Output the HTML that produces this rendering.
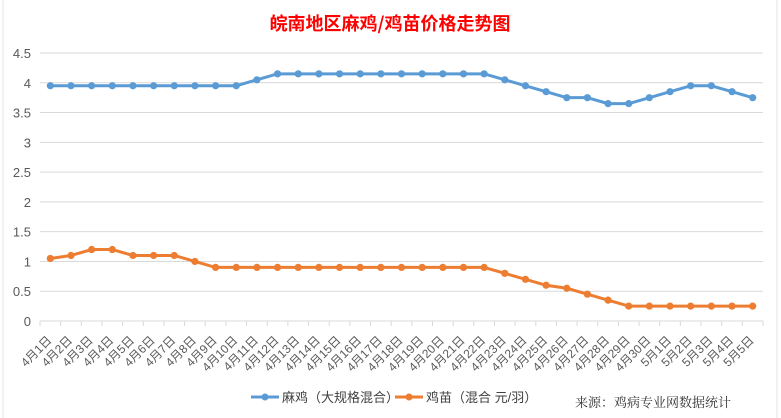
<!DOCTYPE html>
<html><head><meta charset="utf-8"><style>
body{margin:0;background:#fff;}
svg{display:block;font-family:"Liberation Sans","Noto Sans CJK SC",sans-serif;}
</style></head><body>
<svg id="chart" width="781" height="418" viewBox="0 0 781 418" xmlns="http://www.w3.org/2000/svg">
<rect x="0" y="0" width="781" height="418" fill="#fff"/>
<line x1="3" y1="0" x2="3" y2="418" stroke="#e3e3e3"/>
<line x1="777" y1="0" x2="777" y2="418" stroke="#e3e3e3"/>
<text x="390" y="30" text-anchor="middle" font-size="18" font-weight="bold" fill="#ff0000" font-family="'Noto Sans CJK SC',sans-serif">皖南地区麻鸡/鸡苗价格走势图</text>
<g id="grid"></g><g id="yticks"></g><g id="xaxis"></g><g id="series"></g>
<g>
<g>
<line x1="251" y1="397" x2="279" y2="397" stroke="#5b9bd5" stroke-width="3"/><circle cx="265" cy="397" r="3.5" fill="#5b9bd5"/>
<text x="282" y="402" font-size="13" fill="#404040">麻鸡（大规格混合）</text></g>
<g>
<line x1="395" y1="397" x2="423" y2="397" stroke="#ed7d31" stroke-width="3"/><circle cx="409" cy="397" r="3.5" fill="#ed7d31"/>
<text x="426" y="402" font-size="13" fill="#404040">鸡苗（混合 元/羽）</text></g>
</g>
<text x="575" y="407" font-size="13" fill="#333" font-family="'Noto Serif CJK SC',serif">来源：鸡病专业网数据统计</text>
</svg>
<script>
const categories=["4月1日","4月2日","4月3日","4月4日","4月5日","4月6日","4月7日","4月8日","4月9日","4月10日","4月11日","4月12日","4月13日","4月14日","4月15日","4月16日","4月17日","4月18日","4月19日","4月20日","4月21日","4月22日","4月23日","4月24日","4月25日","4月26日","4月27日","4月28日","4月29日","4月30日","5月1日","5月2日","5月3日","5月4日","5月5日"];
const majiValues=[3.95,3.95,3.95,3.95,3.95,3.95,3.95,3.95,3.95,3.95,4.05,4.15,4.15,4.15,4.15,4.15,4.15,4.15,4.15,4.15,4.15,4.15,4.05,3.95,3.85,3.75,3.75,3.65,3.65,3.75,3.85,3.95,3.95,3.85,3.75];
const jimiaoValues=[1.05,1.1,1.2,1.2,1.1,1.1,1.1,1.0,0.9,0.9,0.9,0.9,0.9,0.9,0.9,0.9,0.9,0.9,0.9,0.9,0.9,0.9,0.8,0.7,0.6,0.55,0.45,0.35,0.25,0.25,0.25,0.25,0.25,0.25,0.25];
const yTicks=["0","0.5","1","1.5","2","2.5","3","3.5","4","4.5"];
const NS="http://www.w3.org/2000/svg";
const L=40,R=763,Y0=321,Y1=53,YMAX=4.5;
const band=(R-L)/categories.length;
const x=i=>L+band*(i+0.5);
const y=v=>Y0-(v/YMAX)*(Y0-Y1);
function mk(t,a,p){const e=document.createElementNS(NS,t);for(const k in a)e.setAttribute(k,a[k]);p.appendChild(e);return e;}
const grid=document.getElementById('grid'),yt=document.getElementById('yticks'),xa=document.getElementById('xaxis'),sr=document.getElementById('series');
yTicks.forEach(t=>{const v=parseFloat(t);
 if(v>0){const g=mk('line',{x1:L,x2:R,y1:y(v),y2:y(v),stroke:'#d9d9d9'},grid);
 
 }
 const tx=mk('text',{x:31,y:y(v)+5,'text-anchor':'end','font-size':'13',fill:'#595959'},yt);tx.textContent=t;
 
 
});
const ax=mk('line',{x1:L,x2:R,y1:Y0,y2:Y0,stroke:'#d9d9d9'},xa);


for(let i=0;i<=categories.length;i++){mk('line',{x1:L+band*i,x2:L+band*i,y1:Y0,y2:Y0+5,stroke:'#d9d9d9'},xa);}
categories.forEach((c,i)=>{const cx=x(i)+2,cy=Y0+20;
 const t=mk('text',{x:cx,y:cy,'text-anchor':'end','font-size':'12',fill:'#595959',transform:`rotate(-45 ${cx} ${cy})`},xa);t.textContent=c;
 
 
});
function drawSeries(vals,color,name){
 const g=mk('g',{},sr);
 
 
 mk('polyline',{points:vals.map((v,i)=>x(i)+','+y(v)).join(' '),fill:'none',stroke:color,'stroke-width':3,'stroke-linejoin':'round'},g);
 vals.forEach((v,i)=>{const c=mk('circle',{cx:x(i),cy:y(v),r:3.6,fill:color},g);
  
  });
}
drawSeries(majiValues,'#5b9bd5','series-maji');
drawSeries(jimiaoValues,'#ed7d31','series-jimiao');
</script>
</body></html>
